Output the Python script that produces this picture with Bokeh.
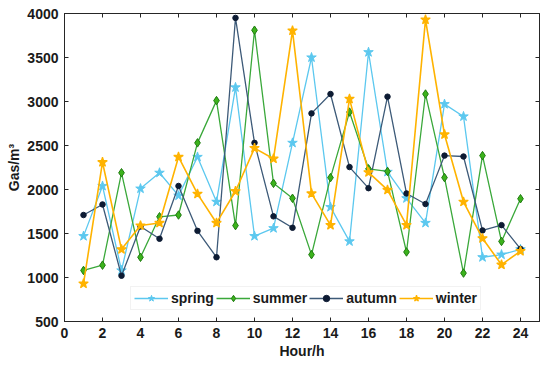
from bokeh.plotting import figure
from bokeh.models import LinearAxis, Range1d, FixedTicker, Legend, LegendItem
from bokeh.embed import file_html
from bokeh.resources import INLINE

hours = list(range(1, 25))
spring = [1470, 2040, 1080, 2010, 2190, 1930, 2370, 1860, 3160, 1470, 1560, 2530,
          3500, 1800, 1410, 3560, 2200, 1900, 1620, 2970, 2830, 1230, 1260, 1320]
summer = [1080, 1140, 2190, 1230, 1690, 1710, 2530, 3010, 1590, 3810, 2070, 1900,
          1260, 2135, 2880, 2235, 2205, 1290, 3085, 2135, 1050, 2385, 1410, 1895]
autumn = [1710, 1830, 1020, 1580, 1440, 2040, 1530, 1230, 3950, 2530, 1695, 1565,
          2865, 3085, 2255, 2015, 3055, 1955, 1835, 2385, 2375, 1535, 1595, 1325]
winter = [930, 2310, 1320, 1590, 1620, 2370, 1950, 1620, 1980, 2470, 2350, 3805,
          1955, 1595, 3030, 2195, 1995, 1595, 3930, 2625, 1860, 1445, 1145, 1300]
x_ticks = list(range(0, 26, 2))
y_ticks = list(range(500, 4001, 500))

FONT = "Liberation Sans"

p = figure(frame_width=475, frame_height=308, output_backend="svg", toolbar_location=None,
           x_range=Range1d(0, 25), y_range=Range1d(500, 4000),
           min_border_left=64, min_border_top=13, min_border_right=3, min_border_bottom=30)
p.grid.visible = False
p.outline_line_color = "#262626"
p.outline_line_width = 1
p.background_fill_color = "white"
p.border_fill_color = "white"

for ax in (p.xaxis[0], p.yaxis[0]):
    ax.major_label_text_font = FONT
    ax.major_label_text_font_style = "bold"
    ax.major_label_text_font_size = "14px"
    ax.major_label_text_color = "#1a1a1a"
    ax.axis_label_text_font = FONT
    ax.axis_label_text_font_style = "bold"
    ax.axis_label_text_font_size = "14px"
    ax.axis_label_text_color = "#1a1a1a"
    ax.major_tick_in = 4
    ax.major_tick_out = 0
    ax.minor_tick_line_color = None
    ax.axis_line_color = "#262626"
    ax.major_tick_line_color = "#262626"

p.xaxis[0].ticker = FixedTicker(ticks=x_ticks)
p.yaxis[0].ticker = FixedTicker(ticks=y_ticks)
p.xaxis[0].axis_label = "Hour/h"
p.yaxis[0].axis_label = "Gas/m³"
p.xaxis[0].axis_label_standoff = 2
p.yaxis[0].axis_label_standoff = 2
p.xaxis[0].major_label_standoff = 6
p.yaxis[0].major_label_standoff = 6

top = LinearAxis(ticker=FixedTicker(ticks=x_ticks),
                 major_label_overrides={t: "" for t in x_ticks},
                 major_tick_in=4, major_tick_out=0, minor_tick_line_color=None,
                 axis_line_color="#262626", major_tick_line_color="#262626",
                 major_label_standoff=0)
right = LinearAxis(ticker=FixedTicker(ticks=y_ticks),
                   major_label_overrides={t: "" for t in y_ticks},
                   major_tick_in=4, major_tick_out=0, minor_tick_line_color=None,
                   axis_line_color="#262626", major_tick_line_color="#262626",
                   major_label_standoff=0)
p.add_layout(top, "above")
p.add_layout(right, "right")

c_spring = "#5cc8ef"
c_summer = "#3aa83a"
c_autumn_l = "#3d5a78"
c_autumn_m = "#0d1b33"
c_winter = "#ffb300"

l1 = p.line(hours, spring, line_color=c_spring, line_width=1.3)
m1 = p.scatter(hours, spring, marker="star", size=10, fill_color=c_spring,
               line_color=c_spring, line_width=1)
l2 = p.line(hours, summer, line_color=c_summer, line_width=1.3)
m2 = p.scatter(hours, summer, marker="diamond", size=8.5, fill_color="#3cb31c",
               line_color="#1f7a10", line_width=1)
l3 = p.line(hours, autumn, line_color=c_autumn_l, line_width=1.3)
m3 = p.scatter(hours, autumn, marker="circle", size=5.5, fill_color=c_autumn_m,
               line_color=c_autumn_m)
l4 = p.line(hours, winter, line_color=c_winter, line_width=1.6)
m4 = p.scatter(hours, winter, marker="star", size=10, fill_color=c_winter,
               line_color=c_winter, line_width=1.2)

legend = Legend(items=[
    LegendItem(label="spring", renderers=[l1, m1]),
    LegendItem(label="summer", renderers=[l2, m2]),
    LegendItem(label="autumn", renderers=[l3, m3]),
    LegendItem(label="winter", renderers=[l4, m4]),
], orientation="horizontal", location=(66, 11))
legend.label_text_font = FONT
legend.label_text_font_style = "bold"
legend.label_text_font_size = "14px"
legend.label_text_color = "#1a1a1a"
legend.glyph_width = 34
legend.glyph_height = 16
legend.label_standoff = 3
legend.spacing = 2
legend.padding = 3
legend.margin = 0
legend.label_height = 16
legend.border_line_color = "#e6e6e6"
legend.background_fill_alpha = 1
p.add_layout(legend, "center")

open("out.html", "w").write(file_html(p, INLINE))
